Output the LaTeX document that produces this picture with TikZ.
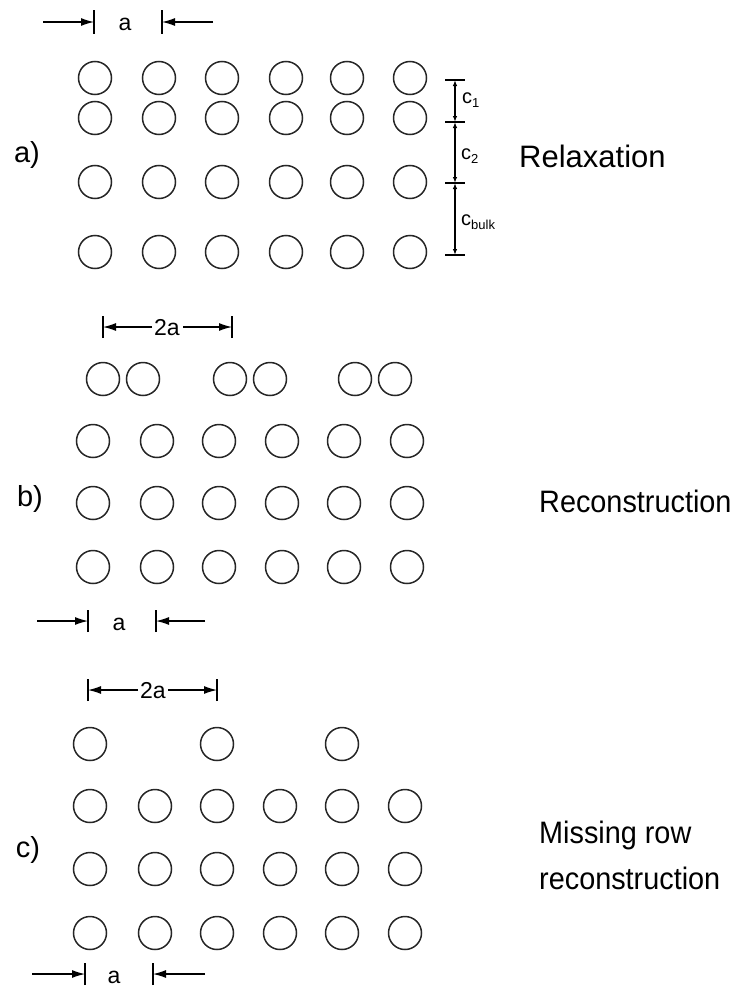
\documentclass[tikz,border=0pt]{standalone}
\usepackage{fontspec}
\setmainfont{Liberation Sans}
\usetikzlibrary{arrows.meta}
\newcommand\lowsub[1]{\raisebox{-0.4ex}{\fontsize{13}{13}\selectfont #1}}
\newcommand\narrowtext[1]{\scalebox{0.93}[1]{#1}}
\begin{document}
\begin{tikzpicture}[x=1pt,y=-1pt,
  atom/.style={circle,draw=black!85,line width=1.5pt,minimum size=33pt,inner sep=0pt},
  dimarrow/.style={line width=1.2pt,-{Latex[length=13pt,width=8pt]}},
  smallarrow/.style={line width=1.2pt,{Latex[length=6pt,width=4.5pt]}-{Latex[length=6pt,width=4.5pt]}},
  tickline/.style={line width=1.4pt},
  panellbl/.style={font=\fontsize{29}{32}\selectfont,inner sep=0pt},
  bigtext/.style={font=\fontsize{31}{35}\selectfont,inner sep=0pt,anchor=base west},
  dimlbl/.style={font=\fontsize{23}{25}\selectfont,inner sep=1pt},
  clbl/.style={font=\fontsize{20}{21}\selectfont,inner sep=0pt,anchor=west}
]
\useasboundingbox (0,0) rectangle (744,990);

% ---------- panel a ----------
\foreach \x [count=\i] in {95,159,222,286,347,410} {
  \foreach \y [count=\j] in {78,118,182,252} {
    \node[atom] (a\i\j) at (\x,\y) {};
  }
}
\node[panellbl] (la) at (27,155) {a)};
\node[bigtext] (relax) at (519,167) {Relaxation};
% top dimension a
\coordinate (ta0) at (43,22);
\coordinate (ta1) at (94,22);
\coordinate (ta2) at (162,22);
\coordinate (ta3) at (213,22);
\draw[tickline] ([yshift=-12pt]ta1) -- ([yshift=12pt]ta1);
\draw[tickline] ([yshift=-12pt]ta2) -- ([yshift=12pt]ta2);
\draw[dimarrow] (ta0) -- (ta1);
\draw[dimarrow] (ta3) -- (ta2);
\node[dimlbl] (tal) at (125,24) {a};
% c dimensions
\coordinate (c0) at (455,80);
\coordinate (c1) at (455,122);
\coordinate (c2) at (455,183);
\coordinate (c3) at (455,255);
\foreach \c in {c0,c1,c2,c3} {
  \draw[tickline] ([xshift=-10pt]\c) -- ([xshift=10pt]\c);
}
\draw[smallarrow] (c0) -- (c1);
\draw[smallarrow] (c1) -- (c2);
\draw[smallarrow] (c2) -- (c3);
\node[clbl] (lc1) at (462,100) {c\lowsub{1}};
\node[clbl] (lc2) at (461,156) {c\lowsub{2}};
\node[clbl] (lcb) at (461,222) {c\lowsub{bulk}};

% ---------- panel b ----------
\foreach \x [count=\i] in {103,143,230,270,355,395} {
  \node[atom] (bt\i) at (\x,379) {};
}
\foreach \x [count=\i] in {93,157,219,282,344,407} {
  \foreach \y [count=\j] in {441,503,567} {
    \node[atom] (b\i\j) at (\x,\y) {};
  }
}
\node[panellbl] (lb) at (30,499) {b)};
\node[bigtext] (recon) at (539,512) {\narrowtext{Reconstruction}};
% 2a dimension
\coordinate (bd1) at (103,327);
\coordinate (bd2) at (232,327);
\coordinate (bd1i) at (152,327);
\coordinate (bd2i) at (183,327);
\draw[tickline] ([yshift=-11pt]bd1) -- ([yshift=11pt]bd1);
\draw[tickline] ([yshift=-11pt]bd2) -- ([yshift=11pt]bd2);
\draw[dimarrow] (bd1i) -- (bd1);
\draw[dimarrow] (bd2i) -- (bd2);
\node[dimlbl,fill=white] (bdl) at (167,328) {2a};
% bottom a dimension
\coordinate (ba0) at (37,621);
\coordinate (ba1) at (88,621);
\coordinate (ba2) at (156,621);
\coordinate (ba3) at (205,621);
\draw[tickline] ([yshift=-11pt]ba1) -- ([yshift=11pt]ba1);
\draw[tickline] ([yshift=-11pt]ba2) -- ([yshift=11pt]ba2);
\draw[dimarrow] (ba0) -- (ba1);
\draw[dimarrow] (ba3) -- (ba2);
\node[dimlbl] (bal) at (119,624) {a};

% ---------- panel c ----------
\foreach \x [count=\i] in {90,217,342} {
  \node[atom] (ct\i) at (\x,744) {};
}
\foreach \x [count=\i] in {90,155,217,280,342,405} {
  \foreach \y [count=\j] in {806,869,933} {
    \node[atom] (c\i\j) at (\x,\y) {};
  }
}
\node[panellbl] (lcc) at (28,850) {c)};
\node[bigtext] (miss1) at (539,843) {\narrowtext{Missing row}};
\node[bigtext] (miss2) at (539,889) {\narrowtext{reconstruction}};
% 2a dimension
\coordinate (cd1) at (88,690);
\coordinate (cd2) at (217,690);
\coordinate (cd1i) at (138,690);
\coordinate (cd2i) at (168,690);
\draw[tickline] ([yshift=-11pt]cd1) -- ([yshift=11pt]cd1);
\draw[tickline] ([yshift=-11pt]cd2) -- ([yshift=11pt]cd2);
\draw[dimarrow] (cd1i) -- (cd1);
\draw[dimarrow] (cd2i) -- (cd2);
\node[dimlbl,fill=white] (cdl) at (153,691) {2a};
% bottom a dimension
\coordinate (ca0) at (32,974);
\coordinate (ca1) at (85,974);
\coordinate (ca2) at (153,974);
\coordinate (ca3) at (205,974);
\draw[tickline] ([yshift=-11pt]ca1) -- ([yshift=11pt]ca1);
\draw[tickline] ([yshift=-11pt]ca2) -- ([yshift=11pt]ca2);
\draw[dimarrow] (ca0) -- (ca1);
\draw[dimarrow] (ca3) -- (ca2);
\node[dimlbl] (cal) at (114,977) {a};
\end{tikzpicture}
\end{document}
